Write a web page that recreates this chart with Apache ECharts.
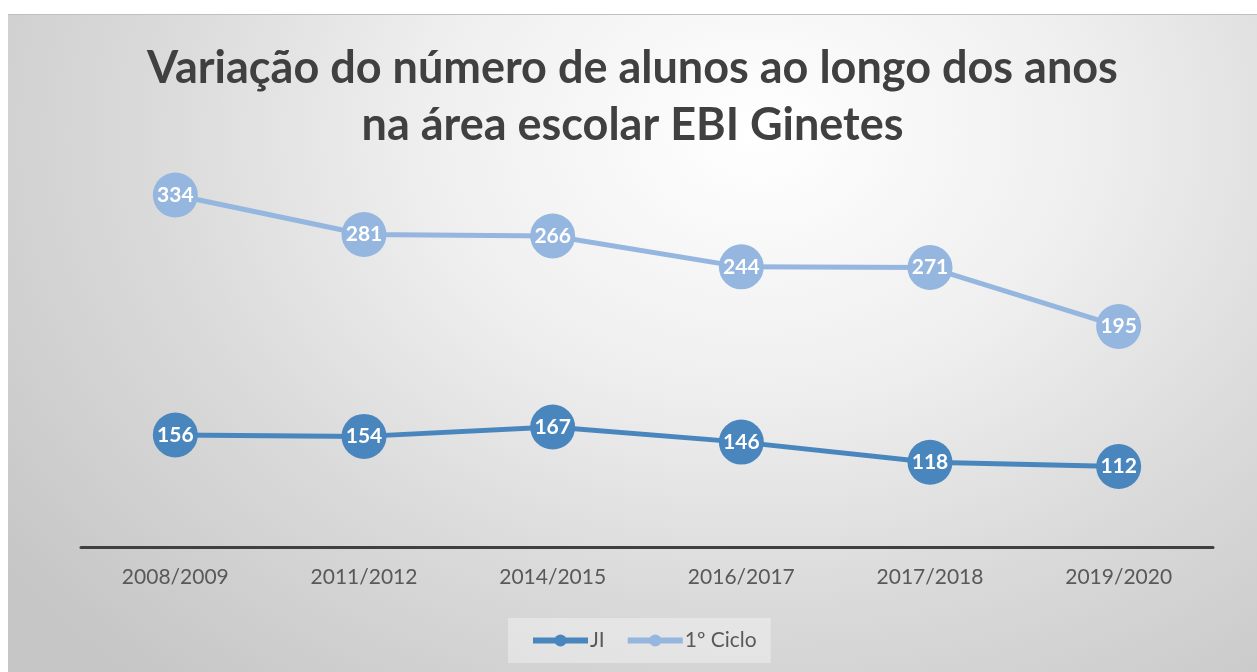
<!DOCTYPE html>
<html>
<head>
<meta charset="utf-8">
<script src="https://cdn.jsdelivr.net/npm/echarts@6/dist/echarts.min.js"></script>
<style>
  html, body { margin: 0; padding: 0; background: #fff; }
  #chart {
    position: absolute;
    left: 8px;
    top: 14px;
    width: 1249px;
    height: 657px;
    border-top: 1px solid #c0c0c0;
    background: radial-gradient(ellipse 75% 110% at 60% 18%, #ffffff 0%, #efefef 35%, #dadada 65%, #c6c6c6 100%);
  }
</style>
</head>
<body>
<div id="chart"></div>
<script>
// anos letivos
const years = ['2008/2009', '2011/2012', '2014/2015', '2016/2017', '2017/2018', '2019/2020']
// JI
const ji = [156, 154, 167, 146, 118, 112]
// 1º Ciclo
const ciclo1 = [334, 281, 266, 244, 271, 195]

const fontFamily = 'Lato, "Open Sans", sans-serif'
const colorJI = '#4a86be'
const colorCiclo = '#94b6df'

const chart = echarts.init(document.getElementById('chart'))

function lineSeries(name, data, color) {
  return {
    name: name,
    type: 'line',
    stack: 'alunos',
    data: data,
    symbol: 'circle',
    symbolSize: 45,
    lineStyle: { width: 5, color: color },
    itemStyle: { color: color },
    label: {
      show: true,
      position: 'inside',
      color: '#fff',
      fontWeight: 'bold',
      fontSize: 21,
      fontFamily: fontFamily
    },
    emphasis: { disabled: true },
    animation: false
  }
}

chart.setOption({
  backgroundColor: 'transparent',
  title: {
    text: 'Variação do número de alunos ao longo dos anos\nna área escolar EBI Ginetes',
    left: 'center',
    top: 20,
    textStyle: {
      fontFamily: fontFamily,
      fontSize: 45,
      fontWeight: 'bold',
      color: '#404040',
      lineHeight: 57
    }
  },
  grid: {
    left: 73,
    right: 44,
    top: 101,
    bottom: 125
  },
  xAxis: {
    type: 'category',
    data: years,
    boundaryGap: true,
    axisLine: { lineStyle: { color: '#404040', width: 3 } },
    axisTick: { show: false },
    axisLabel: {
      fontFamily: fontFamily,
      fontSize: 21,
      color: '#595959',
      margin: 20
    }
  },
  yAxis: {
    type: 'value',
    min: 0,
    max: 600,
    show: false,
    splitLine: { show: false }
  },
  legend: {
    bottom: 9,
    left: 500,
    data: [
      { name: 'JI', lineStyle: { width: 6, color: colorJI } },
      { name: '1º Ciclo', lineStyle: { width: 6, color: colorCiclo } }
    ],
    backgroundColor: 'rgba(255,255,255,0.35)',
    padding: [12, 14, 12, 22],
    itemWidth: 55,
    itemHeight: 15,
    itemGap: 20,
    textStyle: {
      fontFamily: fontFamily,
      fontSize: 21,
      color: '#595959',
      padding: [0, 0, 0, -3]
    }
  },
  series: [
    lineSeries('JI', ji, colorJI),
    lineSeries('1º Ciclo', ciclo1, colorCiclo)
  ]
})
</script>
</body>
</html>
